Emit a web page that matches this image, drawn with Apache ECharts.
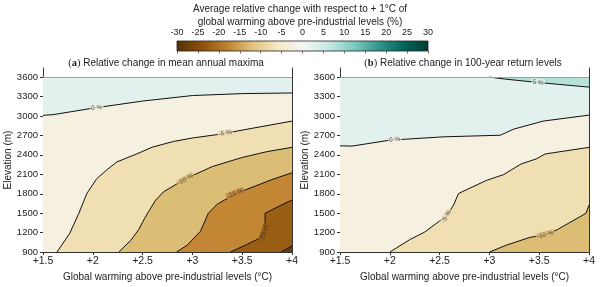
<!DOCTYPE html>
<html><head><meta charset="utf-8">
<script src="https://cdn.jsdelivr.net/npm/echarts@6/dist/echarts.min.js"></script>
<style>html,body{margin:0;padding:0;background:#fff}#c{width:600px;height:287px}</style>
</head><body><div id="c"></div>
<script>
// ---- data ----
const cbarTicks = [-30,-25,-20,-15,-10,-5,0,5,10,15,20,25,30];
const warmingTicks = [1.5,2,2.5,3,3.5,4];
const elevationTicks = [900,1200,1500,1800,2100,2400,2700,3000,3300,3600];
const brbg = ['#543005','#8c510a','#bf812d','#dfc27d','#f6e8c3','#f5f5f5','#c7eae5','#80cdc1','#35978f','#01665e','#003c30'];

// panel (a) contours: [warming, elevation]
const a_c0   = [[1.5,3010],[1.6,3020],[2.0,3120],[2.5,3230],[3.0,3315],[3.5,3345],[4.0,3355]];
const a_cm5  = [[1.64,900],[1.77,1194],[1.86,1500],[1.94,1804],[2.04,2033],[2.15,2180],[2.24,2290],[2.44,2414],[2.6,2520],[2.81,2607],[3.0,2660],[3.28,2719],[3.6,2810],[4.0,2921]];
const a_cm10 = [[2.26,900],[2.38,1080],[2.46,1245],[2.52,1420],[2.56,1525],[2.63,1700],[2.71,1830],[2.93,2030],[3.2,2220],[3.5,2360],[3.75,2450],[4.0,2516]];
const a_cm15 = [[2.84,900],[2.95,1010],[3.08,1220],[3.16,1500],[3.25,1640],[3.43,1800],[3.6,1900],[3.8,2020],[4.0,2124]];
const a_cm20 = [[3.38,900],[3.55,1020],[3.68,1118],[3.73,1250],[3.73,1330],[3.73,1500],[3.96,1677],[4.0,1700]];
const a_cm25 = [[3.89,900],[4.0,995]];
// panel (b) contours
const b_c5   = [[3.0,3600],[3.15,3570],[3.5,3515],[4.0,3445]];
const b_c0   = [[1.5,2540],[1.62,2535],[2.0,2627],[2.54,2678],[3.11,2703],[3.24,2795],[3.54,2921],[4.0,3013]];
const b_cm5  = [[2.0,900],[2.2,1092],[2.35,1209],[2.5,1380],[2.57,1449],[2.64,1626],[2.69,1804],[2.97,2006],[3.14,2094],[3.32,2261],[3.47,2337],[3.56,2414],[4.0,2516]];
const b_cm10 = [[3.0,900],[3.17,1007],[3.41,1129],[3.55,1160],[3.68,1245],[3.97,1499],[4.0,1626]];

// contour labels: [warming, elevation, level, angle]
const labelsA = [[2.04,3126,0,4],[3.33,2734,-5,8],[2.93,2022,-10,30],[3.43,1804,-15,22],[3.72,1200,-20,72]];
const labelsB = [[3.49,3516,5,-6],[2.05,2637,0,5],[2.57,1449,-5,62],[3.56,1168,-10,14]];

// ---- helpers ----
function hex2rgb(h){return [1,3,5].map(i=>parseInt(h.substr(i,2),16));}
function cmap(t){ // BrBG
  const n = brbg.length-1, f = Math.max(0,Math.min(1,t))*n, i = Math.min(n-1,Math.floor(f)), r = f-i;
  const a = hex2rgb(brbg[i]), b = hex2rgb(brbg[i+1]);
  return 'rgb('+a.map((v,k)=>Math.round(v+(b[k]-v)*r)).join(',')+')';
}
const vmin = cbarTicks[0], vmax = cbarTicks[cbarTicks.length-1];
function band(lo){ return cmap((lo+2.5-vmin)/(vmax-vmin)); } // band [lo, lo+5]

const FONT = 'Liberation Sans';
const xMin = warmingTicks[0], xMax = warmingTicks[warmingTicks.length-1];
const yMin = elevationTicks[0], yTop = elevationTicks[elevationTicks.length-1];

function fillSeries(gi, data, color){
  return {type:'line', xAxisIndex:gi, yAxisIndex:gi*2, data, symbol:'none', silent:true, z:1,
    lineStyle:{width:0, opacity:0}, areaStyle:{color, opacity:1, origin:'start'}};
}
function lineSeries(gi, data){
  return {type:'line', xAxisIndex:gi, yAxisIndex:gi*2, data, symbol:'none', silent:true, z:3,
    lineStyle:{width:1, color:'#111'}};
}
function labelSeries(gi, labels){
  return {type:'scatter', xAxisIndex:gi, yAxisIndex:gi*2, symbolSize:1, z:5, silent:true,
    itemStyle:{color:'rgba(0,0,0,0)'},
    data: labels.map(l=>({value:[l[0],l[1]], label:{show:true, position:'inside', formatter:l[2]+' %', rotate:l[3],
      backgroundColor: band(l[2]-5), padding:[0,1], fontSize:6.5, color:'#333', fontFamily:FONT}}))};
}

const topBoundary = [[xMin,yTop],[xMax,yTop]];
const series = [
  // panel a
  Object.assign(fillSeries(0, topBoundary, band(0)), {markLine:{silent:true, symbol:'none', label:{show:false},
     lineStyle:{color:'#a0a0a0', width:1, type:'solid'}, data:[{yAxis:yTop}]}}),
  fillSeries(0, a_c0, band(-5)),
  fillSeries(0, a_cm5, band(-10)),
  fillSeries(0, a_cm10, band(-15)),
  fillSeries(0, a_cm15, band(-20)),
  fillSeries(0, a_cm20, band(-25)),
  fillSeries(0, a_cm25, band(-30)),
  lineSeries(0, a_c0), lineSeries(0, a_cm5), lineSeries(0, a_cm10), lineSeries(0, a_cm15), lineSeries(0, a_cm20), lineSeries(0, a_cm25),
  labelSeries(0, labelsA),
  // panel b
  Object.assign(fillSeries(1, topBoundary, band(5)), {markLine:{silent:true, symbol:'none', label:{show:false},
     lineStyle:{color:'#a0a0a0', width:1, type:'solid'}, data:[{yAxis:yTop}]}}),
  fillSeries(1, [[xMin,yTop]].concat(b_c5), band(0)),
  fillSeries(1, b_c0, band(-5)),
  fillSeries(1, b_cm5, band(-10)),
  fillSeries(1, b_cm10, band(-15)),
  lineSeries(1, b_c5), lineSeries(1, b_c0), lineSeries(1, b_cm5), lineSeries(1, b_cm10),
  labelSeries(1, labelsB),
  // colorbar
  {type:'custom', xAxisIndex:2, yAxisIndex:4, silent:true, z:2,
   data:[[vmin, vmax]],
   renderItem:(params, api)=>{
     const p0 = api.coord([api.value(0),1]), p1 = api.coord([api.value(1),0]);
     const stops = brbg.map((c,i)=>({offset:i/(brbg.length-1), color:c}));
     return {type:'rect', shape:{x:p0[0], y:p0[1], width:p1[0]-p0[0], height:p1[1]-p0[1]},
       style:{fill:new echarts.graphic.LinearGradient(0,0,1,0,stops), stroke:'#222', lineWidth:0.8}};
   }}
];

const axisCol = '#333';
const FS = 10;
function xAx(gi){
  return {gridIndex:gi, type:'value', min:xMin, max:xMax, interval:0.5,
    axisLine:{show:true, onZero:false, lineStyle:{color:axisCol, width:1}},
    axisTick:{show:true, length:3, lineStyle:{color:axisCol}},
    axisLabel:{formatter:v=>'+'+v, fontSize:10.5, color:'#222', margin:4, fontFamily:FONT},
    splitLine:{show:false},
    name:'Global warming above pre-industrial levels (°C)', nameLocation:'middle', nameGap:16,
    nameTextStyle:{fontSize:FS, color:'#222', fontFamily:FONT}};
}
function yAxL(gi){
  return {gridIndex:gi, type:'value', min:yMin, max:3740, interval:300, position:'left',
    axisLine:{show:true, onZero:false, lineStyle:{color:axisCol, width:1}},
    axisTick:{show:true, length:3, lineStyle:{color:axisCol}, customValues:elevationTicks},
    axisLabel:{fontSize:9.5, color:'#222', margin:5, fontFamily:FONT, customValues:elevationTicks, formatter:v=>String(v)},
    splitLine:{show:false},
    name:'Elevation (m)', nameLocation:'middle', nameGap:26, nameRotate:90,
    nameTextStyle:{fontSize:FS, color:'#222', fontFamily:FONT}};
}
function yAxR(gi){
  return {gridIndex:gi, type:'value', min:yMin, max:3740, position:'right',
    axisLine:{show:true, onZero:false, lineStyle:{color:axisCol, width:1}},
    axisTick:{show:false}, axisLabel:{show:false}, splitLine:{show:false}};
}
const richT = {p:{fontFamily:'Liberation Serif', fontSize:10.5, color:'#222'},
               b:{fontFamily:'Liberation Serif', fontWeight:'bold', fontSize:10.5, color:'#222'}};

const option = {
  animation:false,
  backgroundColor:'#fff',
  title:[
    {text:'Average relative change with respect to + 1°C of\nglobal warming above pre-industrial levels (%)',
     left:300, top:3, padding:0, textAlign:'center',
     textStyle:{fontSize:FS, fontWeight:'normal', color:'#222', fontFamily:FONT, lineHeight:13}},
    {text:'{p|(}{b|a}{p|)} Relative change in mean annual maxima', left:166, top:57.5, padding:0, textAlign:'center',
     textStyle:{fontSize:FS, fontWeight:'normal', color:'#222', fontFamily:FONT, rich:richT}},
    {text:'{p|(}{b|b}{p|)} Relative change in 100-year return levels', left:463, top:57.5, padding:0, textAlign:'center',
     textStyle:{fontSize:FS, fontWeight:'normal', color:'#222', fontFamily:FONT, rich:richT}}
  ],
  grid:[
    {left:43, width:249, top:68, bottom:32.5},
    {left:340, width:249, top:68, bottom:32.5},
    {left:177, width:251, top:41, height:10}
  ],
  xAxis:[xAx(0), xAx(1),
    {gridIndex:2, type:'value', min:vmin, max:vmax, interval:5, position:'top',
     axisLine:{show:false}, axisTick:{show:true, inside:true, length:2.5, lineStyle:{color:'#666'}},
     axisLabel:{fontSize:9, color:'#222', margin:4, fontFamily:FONT}, splitLine:{show:false}, z:10}],
  yAxis:[yAxL(0), yAxR(0), yAxL(1), yAxR(1),
    {gridIndex:2, type:'value', min:0, max:1, show:false}],
  series
};
const chart = echarts.init(document.getElementById('c'), null, {renderer:'canvas'});
chart.setOption(option);
</script></body></html>
